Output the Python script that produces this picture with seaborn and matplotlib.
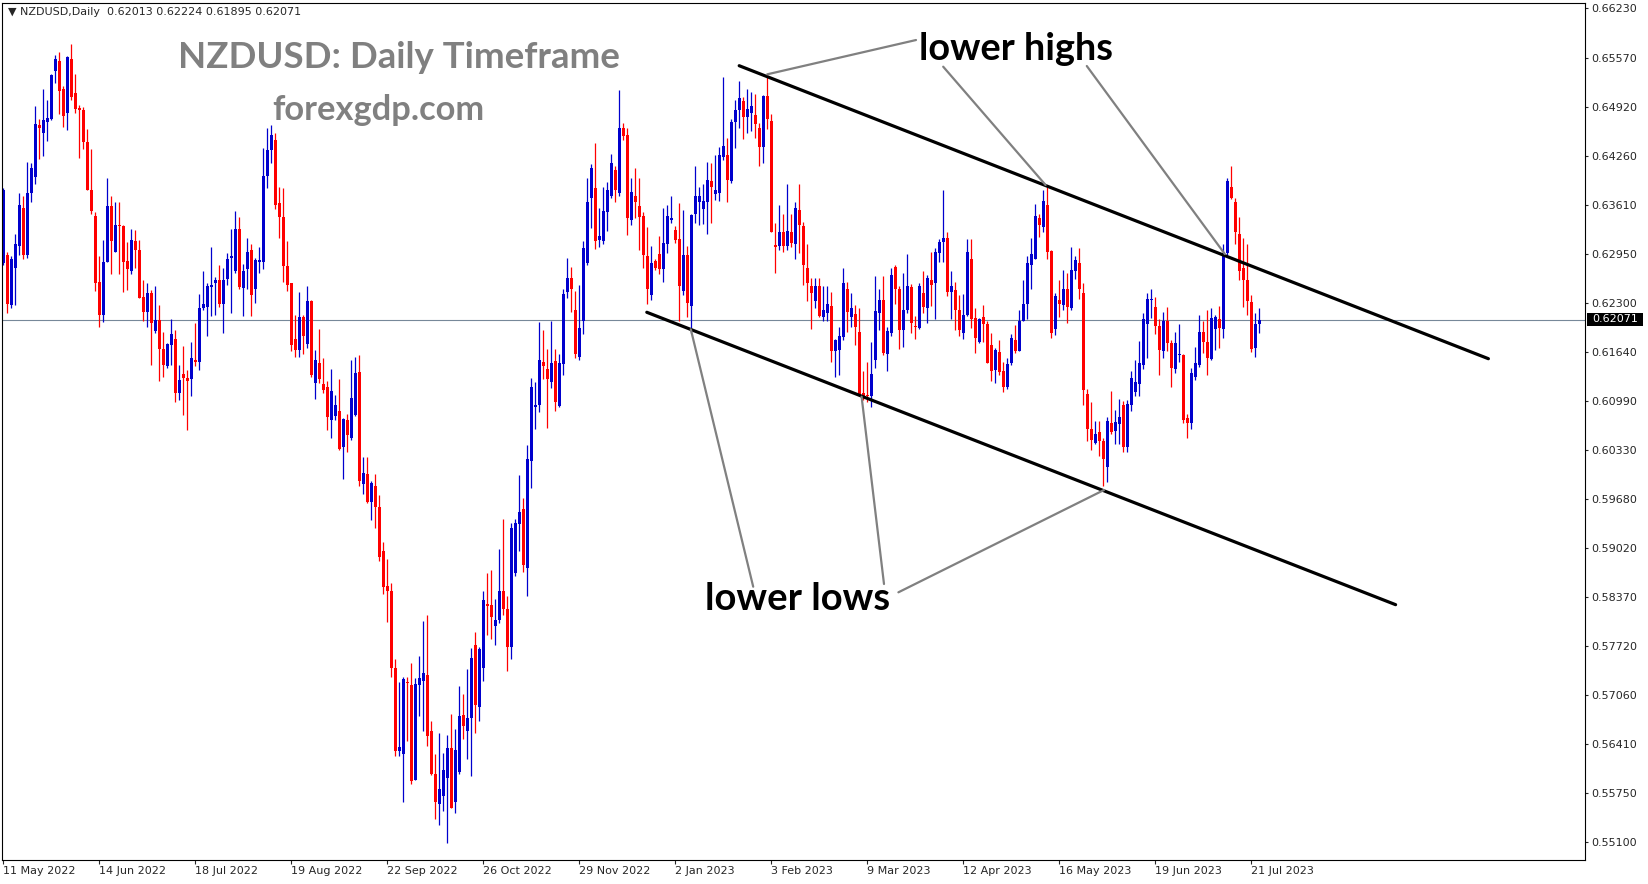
import numpy as np
import pandas as pd
import matplotlib
matplotlib.use("Agg")
import matplotlib.pyplot as plt
from matplotlib.patches import Rectangle
import seaborn as sns

# NZDUSD daily candles, 11 May 2022 .. 25 Jul 2023 (prices in pips, x 1e-4)
opens = [
    6283, 6294, 6227, 6276, 6306, 6357, 6294, 6377, 6398, 6467,
    6456, 6472, 6475, 6539, 6553, 6515, 6483, 6556, 6510, 6490,
    6488, 6445, 6381, 6346, 6258, 6213, 6285, 6359, 6298, 6333,
    6333, 6286, 6272, 6312, 6300, 6238, 6218, 6243, 6192, 6207,
    6168, 6146, 6174, 6181, 6110, 6135, 6129, 6128, 6154, 6151,
    6223, 6225, 6251, 6256, 6261, 6228, 6262, 6290, 6272, 6328,
    6250, 6275, 6300, 6248, 6285, 6285, 6399, 6434, 6447, 6363,
    6344, 6279, 6256, 6182, 6167, 6211, 6175, 6232, 6123, 6149,
    6121, 6117, 6073, 6079, 6086, 6037, 6073, 6049, 6080, 6138,
    5988, 6001, 5964, 5985, 5957, 5899, 5852, 5845, 5743, 5632,
    5628, 5724, 5719, 5593, 5719, 5725, 5733, 5658, 5601, 5561,
    5571, 5595, 5635, 5563, 5603, 5679, 5658, 5675, 5773, 5690,
    5743, 5828, 5827, 5798, 5806, 5845, 5821, 5770, 5869, 5934,
    5954, 5876, 6019, 6091, 6093, 6151, 6142, 6124, 6152, 6092,
    6148, 6244, 6263, 6220, 6158, 6206, 6283, 6370, 6383, 6314,
    6313, 6351, 6372, 6407, 6376, 6463, 6454, 6341, 6373, 6359,
    6346, 6292, 6240, 6286, 6295, 6275, 6309, 6341, 6327, 6315,
    6246, 6294, 6226, 6349, 6364, 6355, 6365, 6393, 6375, 6377,
    6425, 6427, 6392, 6472, 6487, 6499, 6478, 6484, 6481, 6464,
    6438, 6506, 6473, 6307, 6306, 6324, 6306, 6325, 6309, 6354,
    6332, 6276, 6252, 6233, 6252, 6211, 6216, 6226, 6165, 6167,
    6184, 6249, 6211, 6215, 6191, 6110, 6107, 6105, 6153, 6217,
    6234, 6162, 6189, 6278, 6248, 6193, 6221, 6251, 6198, 6196,
    6243, 6223, 6261, 6256, 6296, 6311, 6316, 6245, 6247, 6220,
    6190, 6214, 6288, 6210, 6178, 6211, 6202, 6174, 6140, 6164,
    6139, 6117, 6149, 6180, 6165, 6206, 6229, 6280, 6288, 6343,
    6331, 6361, 6299, 6195, 6234, 6227, 6249, 6223, 6273, 6283,
    6243, 6108, 6061, 6043, 6057, 6045, 6011, 6070, 6059, 6068,
    6094, 6038, 6094, 6111, 6121, 6147, 6202, 6234, 6225, 6199,
    6165, 6206, 6176, 6141, 6160, 6160, 6076, 6069, 6131, 6147,
    6191, 6177, 6155, 6195, 6208, 6195, 6296, 6385, 6364, 6322,
    6276, 6260, 6231, 6169, 6201.3,
]
highs = [
    6383, 6298, 6292, 6322, 6376, 6372, 6418, 6416, 6493, 6475,
    6515, 6501, 6536, 6561, 6565, 6519, 6560, 6576, 6536, 6494,
    6492, 6462, 6435, 6351, 6293, 6314, 6396, 6373, 6364, 6364,
    6334, 6311, 6328, 6327, 6314, 6260, 6256, 6247, 6252, 6227,
    6191, 6176, 6208, 6194, 6147, 6172, 6140, 6178, 6203, 6242,
    6273, 6256, 6305, 6265, 6280, 6277, 6296, 6329, 6353, 6345,
    6282, 6316, 6309, 6290, 6305, 6436, 6463, 6468, 6457, 6384,
    6383, 6313, 6256, 6214, 6245, 6214, 6252, 6234, 6167, 6195,
    6156, 6125, 6141, 6107, 6128, 6076, 6081, 6153, 6158, 6160,
    6024, 6024, 5992, 6001, 5974, 5911, 5888, 5856, 5755, 5723,
    5731, 5731, 5749, 5729, 5758, 5805, 5813, 5671, 5628, 5656,
    5629, 5653, 5681, 5661, 5718, 5707, 5741, 5769, 5791, 5770,
    5845, 5869, 5873, 5835, 5901, 5941, 5838, 5936, 5941, 6000,
    5969, 6040, 6130, 6124, 6204, 6194, 6168, 6206, 6168, 6162,
    6249, 6290, 6278, 6246, 6254, 6313, 6397, 6415, 6443, 6356,
    6384, 6391, 6429, 6413, 6514, 6470, 6464, 6397, 6410, 6397,
    6351, 6331, 6306, 6288, 6319, 6357, 6360, 6373, 6333, 6363,
    6354, 6306, 6349, 6413, 6385, 6389, 6418, 6417, 6427, 6438,
    6532, 6450, 6476, 6501, 6526, 6505, 6515, 6511, 6509, 6470,
    6507, 6534, 6482, 6336, 6361, 6348, 6389, 6348, 6365, 6389,
    6338, 6309, 6263, 6263, 6263, 6252, 6252, 6245, 6181, 6198,
    6276, 6258, 6243, 6227, 6223, 6139, 6151, 6178, 6266, 6248,
    6266, 6197, 6277, 6280, 6252, 6270, 6295, 6255, 6212, 6257,
    6272, 6267, 6298, 6303, 6315, 6381, 6325, 6272, 6258, 6240,
    6242, 6315, 6315, 6223, 6210, 6227, 6205, 6189, 6169, 6180,
    6151, 6156, 6188, 6200, 6220, 6261, 6292, 6316, 6362, 6349,
    6381, 6385, 6300, 6243, 6260, 6274, 6270, 6305, 6293, 6303,
    6257, 6115, 6097, 6072, 6072, 6050, 6078, 6112, 6087, 6102,
    6099, 6100, 6139, 6154, 6179, 6216, 6243, 6248, 6238, 6208,
    6218, 6225, 6180, 6191, 6202, 6162, 6082, 6143, 6171, 6214,
    6206, 6221, 6223, 6214, 6226, 6308, 6396, 6413, 6370, 6345,
    6316, 6308, 6241, 6217, 6222.4,
]
lows = [
    6280, 6216, 6223, 6227, 6294, 6289, 6290, 6364, 6389, 6422,
    6426, 6446, 6474, 6524, 6482, 6465, 6460, 6501, 6484, 6423,
    6435, 6380, 6348, 6246, 6197, 6204, 6284, 6269, 6298, 6269,
    6244, 6247, 6269, 6276, 6236, 6205, 6198, 6147, 6189, 6125,
    6131, 6143, 6147, 6097, 6100, 6080, 6060, 6105, 6145, 6140,
    6220, 6185, 6212, 6214, 6225, 6189, 6254, 6217, 6270, 6249,
    6212, 6249, 6212, 6230, 6270, 6275, 6383, 6416, 6355, 6316,
    6258, 6246, 6165, 6157, 6158, 6162, 6170, 6131, 6101, 6123,
    6110, 6060, 6049, 6073, 6034, 5995, 6031, 6047, 6079, 5985,
    5975, 5962, 5940, 5929, 5885, 5841, 5804, 5730, 5625, 5625,
    5563, 5645, 5588, 5593, 5678, 5658, 5638, 5599, 5541, 5533,
    5551, 5509, 5555, 5549, 5601, 5648, 5621, 5598, 5655, 5671,
    5725, 5787, 5781, 5773, 5803, 5813, 5739, 5755, 5865, 5898,
    5871, 5838, 5983, 6061, 6084, 6128, 6063, 6116, 6086, 6091,
    6134, 6236, 6218, 6156, 6154, 6188, 6281, 6330, 6302, 6304,
    6308, 6326, 6370, 6364, 6372, 6447, 6320, 6334, 6343, 6300,
    6277, 6229, 6234, 6274, 6269, 6258, 6297, 6336, 6310, 6205,
    6240, 6211, 6190, 6337, 6334, 6335, 6322, 6336, 6367, 6366,
    6421, 6365, 6390, 6437, 6463, 6449, 6457, 6459, 6450, 6413,
    6417, 6462, 6324, 6270, 6300, 6298, 6301, 6305, 6288, 6296,
    6254, 6233, 6195, 6223, 6211, 6206, 6206, 6151, 6131, 6134,
    6180, 6191, 6197, 6173, 6105, 6100, 6098, 6091, 6143, 6194,
    6160, 6139, 6186, 6229, 6168, 6171, 6216, 6190, 6181, 6195,
    6216, 6203, 6226, 6208, 6285, 6285, 6239, 6208, 6194, 6185,
    6182, 6212, 6196, 6163, 6176, 6177, 6149, 6126, 6123, 6134,
    6111, 6115, 6147, 6163, 6165, 6206, 6208, 6248, 6288, 6318,
    6324, 6289, 6183, 6187, 6211, 6220, 6203, 6221, 6262, 6235,
    6094, 6045, 6034, 6042, 6025, 5985, 5991, 6055, 6042, 6042,
    6031, 6031, 6085, 6106, 6106, 6141, 6156, 6209, 6188, 6134,
    6156, 6166, 6117, 6136, 6151, 6069, 6050, 6062, 6127, 6144,
    6163, 6134, 6154, 6167, 6169, 6183, 6294, 6369, 6308, 6260,
    6225, 6213, 6164, 6157, 6189.5,
]
closes = [
    6381, 6229, 6289, 6309, 6361, 6294, 6377, 6410, 6469, 6464,
    6474, 6477, 6534, 6556, 6513, 6479, 6558, 6505, 6489, 6487,
    6445, 6381, 6353, 6257, 6213, 6284, 6359, 6313, 6334, 6332,
    6285, 6275, 6314, 6300, 6237, 6218, 6243, 6203, 6207, 6168,
    6147, 6175, 6188, 6110, 6127, 6129, 6126, 6156, 6151, 6223,
    6228, 6252, 6254, 6260, 6228, 6261, 6289, 6292, 6328, 6251,
    6272, 6298, 6241, 6287, 6287, 6399, 6434, 6454, 6361, 6344,
    6279, 6254, 6173, 6167, 6211, 6185, 6232, 6133, 6153, 6128,
    6114, 6078, 6112, 6094, 6035, 6075, 6053, 6103, 6136, 5992,
    6003, 5964, 5990, 5957, 5890, 5850, 5845, 5743, 5632, 5637,
    5728, 5722, 5591, 5721, 5729, 5736, 5651, 5601, 5563, 5581,
    5606, 5635, 5556, 5633, 5678, 5665, 5676, 5756, 5693, 5768,
    5833, 5825, 5811, 5806, 5845, 5821, 5770, 5929, 5936, 5950,
    5880, 6021, 6118, 6094, 6154, 6146, 6128, 6150, 6098, 6150,
    6242, 6263, 6248, 6161, 6196, 6303, 6364, 6410, 6313, 6319,
    6353, 6380, 6416, 6381, 6464, 6453, 6343, 6378, 6364, 6345,
    6294, 6249, 6283, 6276, 6275, 6310, 6346, 6343, 6314, 6252,
    6294, 6230, 6347, 6373, 6373, 6366, 6394, 6384, 6381, 6427,
    6439, 6394, 6472, 6487, 6503, 6478, 6489, 6493, 6469, 6438,
    6506, 6475, 6324, 6305, 6325, 6306, 6326, 6310, 6357, 6334,
    6280, 6257, 6243, 6252, 6212, 6220, 6229, 6165, 6180, 6186,
    6257, 6218, 6223, 6197, 6105, 6105, 6105, 6135, 6219, 6234,
    6163, 6192, 6267, 6248, 6194, 6220, 6252, 6203, 6197, 6252,
    6225, 6263, 6254, 6298, 6311, 6317, 6245, 6252, 6220, 6193,
    6214, 6298, 6208, 6183, 6208, 6201, 6149, 6139, 6167, 6137,
    6117, 6148, 6183, 6166, 6206, 6229, 6283, 6295, 6346, 6334,
    6366, 6298, 6190, 6239, 6229, 6248, 6225, 6274, 6287, 6248,
    6113, 6061, 6047, 6055, 6045, 6021, 6072, 6057, 6071, 6078,
    6038, 6095, 6129, 6124, 6149, 6208, 6235, 6235, 6199, 6167,
    6206, 6176, 6143, 6176, 6162, 6073, 6069, 6136, 6150, 6191,
    6178, 6156, 6209, 6211, 6196, 6296, 6393, 6370, 6324, 6272,
    6260, 6233, 6168, 6202, 6207.1,
]

date_labels = ['11 May 2022', '14 Jun 2022', '18 Jul 2022', '19 Aug 2022',
               '22 Sep 2022', '26 Oct 2022', '29 Nov 2022', '2 Jan 2023',
               '3 Feb 2023', '9 Mar 2023', '12 Apr 2023', '16 May 2023',
               '19 Jun 2023', '21 Jul 2023']
date_bars = [0, 24, 48, 72, 96, 120, 144, 168, 192, 216, 240, 264, 288, 312]

price_ticks = [0.66230, 0.65570, 0.64920, 0.64260, 0.63610, 0.62950, 0.62300,
               0.61640, 0.60990, 0.60330, 0.59680, 0.59020, 0.58370, 0.57720,
               0.57060, 0.56410, 0.55750, 0.55100]
last_price = 0.62071
header = "\u25bc NZDUSD,Daily  0.62013 0.62224 0.61895 0.62071"

# channel lines (bar index, price)
channel_bars = [184.0, 371.3, 160.9, 348.1]
channel_prices = [0.65465, 0.61553, 0.62173, 0.58269]
channel_ids = ['upper', 'upper', 'lower', 'lower']

# pointer lines from the labels to the touches
pointer_bars = [228.2, 191.0, 235.0, 260.6, 270.9, 305.4,
                187.5, 171.9, 220.2, 214.6, 223.8, 275.2]
pointer_prices = [0.65808, 0.65350, 0.65452, 0.63872, 0.65461, 0.62951,
                  0.58509, 0.61946, 0.58545, 0.61046, 0.58434, 0.59800]
pointer_ids = ['h1', 'h1', 'h2', 'h2', 'h3', 'h3',
               'l1', 'l1', 'l2', 'l2', 'l3', 'l3']

BLUE = '#0000cd'
RED = '#ff0000'

sns.set_style("white")
plt.rcParams['font.family'] = ['DejaVu Sans']

o = np.array(opens) / 1e4
h = np.array(highs) / 1e4
l = np.array(lows) / 1e4
c = np.array(closes) / 1e4
x = np.arange(len(c))
col = np.where(c >= o, BLUE, RED)

W, H = 1649, 884
fig = plt.figure(figsize=(W / 100, H / 100), dpi=100)
ax = fig.add_axes([2 / W, 24 / H, 1583 / W, 857.5 / H])

# candles
ax.vlines(x, l, h, colors=col, linewidth=0.9)
body = np.maximum(np.abs(c - o), 0.00014)
ax.bar(x, body, bottom=np.minimum(o, c), width=0.75, color=col, linewidth=0)

ax.axhline(last_price, color='#778899', lw=0.8, zorder=0)

chan = pd.DataFrame({'bar': channel_bars, 'price': channel_prices, 'line': channel_ids})
sns.lineplot(data=chan, x='bar', y='price', units='line', estimator=None,
             color='black', lw=2.3, legend=False, ax=ax)
ptr = pd.DataFrame({'bar': pointer_bars, 'price': pointer_prices, 'line': pointer_ids})
sns.lineplot(data=ptr, x='bar', y='price', units='line', estimator=None,
             color='#808080', lw=1.6, legend=False, ax=ax)

ax.set_xlim(-0.3, 395.45)
ax.set_ylim(0.54860, 0.66309)
ax.set_xlabel('')
ax.set_ylabel('')

ax.set_xticks(date_bars)
ax.set_xticklabels(date_labels, ha='left', fontsize=8)
ax.tick_params(axis='x', bottom=True, direction='out', length=3, width=0.8, pad=1.5)
ax.yaxis.tick_right()
ax.set_yticks(price_ticks)
ax.set_yticklabels([f'{v:.5f}' for v in price_ticks], fontsize=8)
ax.tick_params(axis='y', right=True, left=False, labelright=True, labelleft=False,
               direction='out', length=2.5, width=0.8, pad=2)
for s in ax.spines.values():
    s.set_color('black')
    s.set_linewidth(0.8)

# current price tag
fig.add_artist(Rectangle((1587 / W, 1 - 326 / H), 56 / W, 13 / H,
                         transform=fig.transFigure, fc='black', ec='none'))
fig.text(1592 / W, 1 - 319.5 / H, f'{last_price:.5f}', color='white',
         fontsize=8, va='center', ha='left')

fig.text(8 / W, 1 - 12 / H, header, fontsize=8, va='center', ha='left')


def px_text(x0, y0, s, width, **kw):
    t = fig.text(x0 / W, 1 - y0 / H, s, ha='left', va='baseline', **kw)
    r = fig.canvas.get_renderer()
    for _ in range(3):
        w = t.get_window_extent(r).width
        t.set_fontsize(t.get_fontsize() * width / w)
    return t


px_text(178, 68, 'NZDUSD: Daily Timeframe', 442, family=['Lato', 'DejaVu Sans'],
        weight='bold', color='#808080', fontsize=30)
px_text(272, 120, 'forexgdp.com', 212, family=['Lato', 'DejaVu Sans'],
        weight='bold', color='#808080', fontsize=24)
px_text(919, 60, 'lower highs', 194, family=['Lato', 'DejaVu Sans'],
        weight='bold', color='black', fontsize=28)
px_text(705, 610, 'lower lows', 185, family=['Lato', 'DejaVu Sans'],
        weight='bold', color='black', fontsize=28)

fig.savefig('out.png', dpi=100, facecolor='white')
